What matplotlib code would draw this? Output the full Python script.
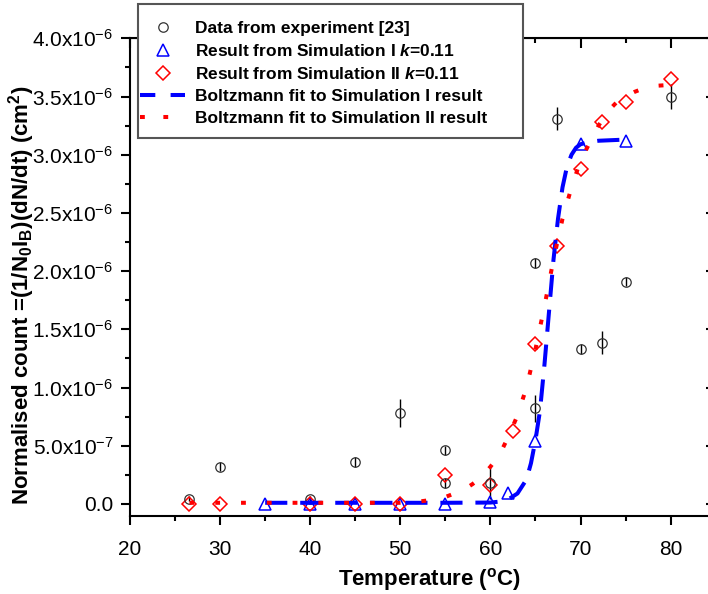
import numpy as np
import matplotlib
matplotlib.use("Agg")
import matplotlib.pyplot as plt
from matplotlib.lines import Line2D
from matplotlib.patches import Rectangle
from matplotlib.ticker import MultipleLocator, FuncFormatter

plt.rcParams['font.family'] = ['Liberation Sans', 'DejaVu Sans']
plt.rcParams['mathtext.fontset'] = 'custom'
plt.rcParams['mathtext.rm'] = 'Liberation Sans'
plt.rcParams['mathtext.bf'] = 'Liberation Sans:bold'
plt.rcParams['mathtext.it'] = 'Liberation Sans:italic:bold'
plt.rcParams['mathtext.default'] = 'regular'

# experiment [23]
exp_T = [26.6, 30, 40, 45, 50, 55, 55, 60, 65, 65, 67.4, 70, 72.4, 75, 80]
exp_v = [0.045, 0.32, 0.045, 0.36, 0.78, 0.46, 0.18, 0.18, 0.82, 2.07, 3.31, 1.33, 1.385, 1.91, 3.50]
exp_err = [0.02, 0.04, 0.02, 0.04, 0.12, 0.04, 0.04, 0.14, 0.12, 0.04, 0.10, 0.04, 0.10, 0.04, 0.11]

# simulation I (k=0.11)
sim1_T = [35, 40, 45, 50, 55, 60, 62, 65, 70, 75]
sim1_v = [0.0, 0.0, 0.0, 0.0, 0.0, 0.02, 0.097, 0.544, 3.09, 3.12]

# simulation II (k=0.11)
sim2_T = [26.6, 30, 40, 45, 50, 55, 60, 62.5, 65, 67.4, 70, 72.4, 75, 80]
sim2_v = [0.0, 0.0, 0.0, 0.0, 0.0, 0.253, 0.163, 0.627, 1.37, 2.22, 2.88, 3.28, 3.456, 3.65]

# Boltzmann fit curves
fit1_T = [35, 40, 45, 50, 55, 60, 61, 62, 63, 63.5, 64, 64.5, 65, 65.5, 66, 66.5, 67, 67.5,
          68, 68.5, 69, 69.5, 70, 71, 72, 75]
fit1_v = [0.01, 0.01, 0.01, 0.01, 0.01, 0.012, 0.02, 0.04, 0.09, 0.15, 0.21, 0.35, 0.55, 0.80,
          1.20, 1.65, 2.10, 2.45, 2.72, 2.90, 3.00, 3.06, 3.09, 3.11, 3.12, 3.13]

fit2_T = [26.6, 30, 35, 40, 45, 50, 52, 54, 55, 56, 57, 58, 59, 60, 61, 62, 63, 64, 65, 66,
          67, 68, 69, 70, 71, 72, 73, 74, 75, 76, 77, 78, 80]
fit2_v = [0.01, 0.01, 0.01, 0.01, 0.01, 0.01, 0.02, 0.04, 0.06, 0.09, 0.12, 0.17, 0.23, 0.32,
          0.42, 0.58, 0.76, 1.00, 1.33, 1.70, 2.10, 2.45, 2.72, 2.95, 3.10, 3.25, 3.37, 3.45,
          3.50, 3.54, 3.57, 3.59, 3.60]

scale = 1e-6
W, H = 708, 594
fig = plt.figure(figsize=(W / 100, H / 100), dpi=100)
ax = fig.add_axes([130 / W, 1 - 515.6 / H, 585.7 / W, 477.3 / H])

blue = '#0000ff'
red = '#ff0000'

ax.errorbar(exp_T, np.array(exp_v) * scale, yerr=np.array(exp_err) * scale, fmt='o',
            mfc='none', mec='#333333', mew=0.9, ms=6.8, ecolor='black', elinewidth=1.0,
            capsize=0, zorder=3)
ax.plot(sim1_T, np.array(sim1_v) * scale, '^', mfc='none', mec=blue, mew=1.1, ms=9, zorder=3)
ax.plot(sim2_T, np.array(sim2_v) * scale, 'D', mfc='none', mec=red, mew=1.1, ms=7.5, zorder=3)
ax.plot(fit1_T, np.array(fit1_v) * scale, color=blue, lw=2.9, dashes=(5.5, 3.2), zorder=4)
ax.plot(fit2_T, np.array(fit2_v) * scale, color=red, lw=2.9, dashes=(1.2, 5.2), zorder=4)

ax.set_xlim(20, 85)
ax.set_ylim(-0.1e-6, 4.0e-6)
ax.xaxis.set_major_locator(MultipleLocator(10))
ax.xaxis.set_minor_locator(MultipleLocator(5))
ax.yaxis.set_major_locator(MultipleLocator(0.5e-6))
ax.yaxis.set_minor_locator(MultipleLocator(0.25e-6))


def sci(v, pos):
    if abs(v) < 1e-12:
        return '0.0'
    e = int(np.floor(np.log10(abs(v)) + 1e-9))
    m = v / 10 ** e
    return f'{m:.1f}x10$^{{{e}}}$'


ax.yaxis.set_major_formatter(FuncFormatter(sci))
for s in ax.spines.values():
    s.set_linewidth(1.5)
ax.tick_params(which='both', direction='out', width=1.5, labelsize=15)
ax.tick_params(which='major', length=6.5)
ax.tick_params(which='minor', length=3.5)
ax.tick_params(axis='y', pad=5.5)
ax.tick_params(axis='x', pad=11)

top = ax.secondary_xaxis('top')
top.xaxis.set_major_locator(MultipleLocator(10))
top.xaxis.set_minor_locator(MultipleLocator(5))
top.tick_params(which='both', direction='in', width=1.5, labeltop=False)
top.tick_params(which='major', length=7)
top.tick_params(which='minor', length=3.5)
right = ax.secondary_yaxis('right')
right.yaxis.set_major_locator(MultipleLocator(0.5e-6))
right.yaxis.set_minor_locator(MultipleLocator(0.25e-6))
right.tick_params(which='both', direction='in', width=1.5, labelright=False)
right.tick_params(which='major', length=7)
right.tick_params(which='minor', length=3.5)

ax.set_xlabel('Temperature ($^{\\mathbf{o}}$C)', fontsize=16, fontweight='bold')
ax.xaxis.set_label_coords((430 - 130) / 585.7, -(566 - 515.6) / 477.3)
ax.set_ylabel('Normalised count =(1/N$_{\\mathbf{0}}$I$_{\\mathbf{B}}$)(dN/dt) (cm$^{\\mathbf{2}}$)',
              fontsize=16, fontweight='bold')
ax.yaxis.set_label_coords(-(130 - 37) / 585.7, (515.6 - 295.5) / 477.3)

# legend box
fig.patches.append(Rectangle((137.7 / W, 1 - 138.3 / H), 385 / W, 134.3 / H,
                             transform=fig.transFigure, facecolor='white',
                             edgecolor='#555555', lw=1.5, zorder=4))
handles = [
    Line2D([], [], ls='none', marker='o', mfc='none', mec='#333333', mew=0.9, ms=6.8),
    Line2D([], [], ls='none', marker='^', mfc='none', mec=blue, mew=1.1, ms=9),
    Line2D([], [], ls='none', marker='D', mfc='none', mec=red, mew=1.1, ms=7.5),
    Line2D([], [], color=blue, lw=2.9, dashes=(3.8, 3.8)),
    Line2D([], [], color=red, lw=2.9, dashes=(1.2, 4.6)),
]
labels = ['Data from experiment [23]',
          'Result from Simulation I $\\mathit{k}$=0.11',
          'Result from Simulation II $\\mathit{k}$=0.11',
          'Boltzmann fit to Simulation I result',
          'Boltzmann fit to Simulation II result']
fig.legend(handles, labels, loc='upper left', bbox_to_anchor=(140 / W, 1 - 20.5 / H),
           frameon=False, borderpad=0, borderaxespad=0, handlelength=2.6,
           handletextpad=0.58, labelspacing=0.41,
           prop={'size': 12.5, 'weight': 'bold'})

fig.savefig('out.png', dpi=100)
